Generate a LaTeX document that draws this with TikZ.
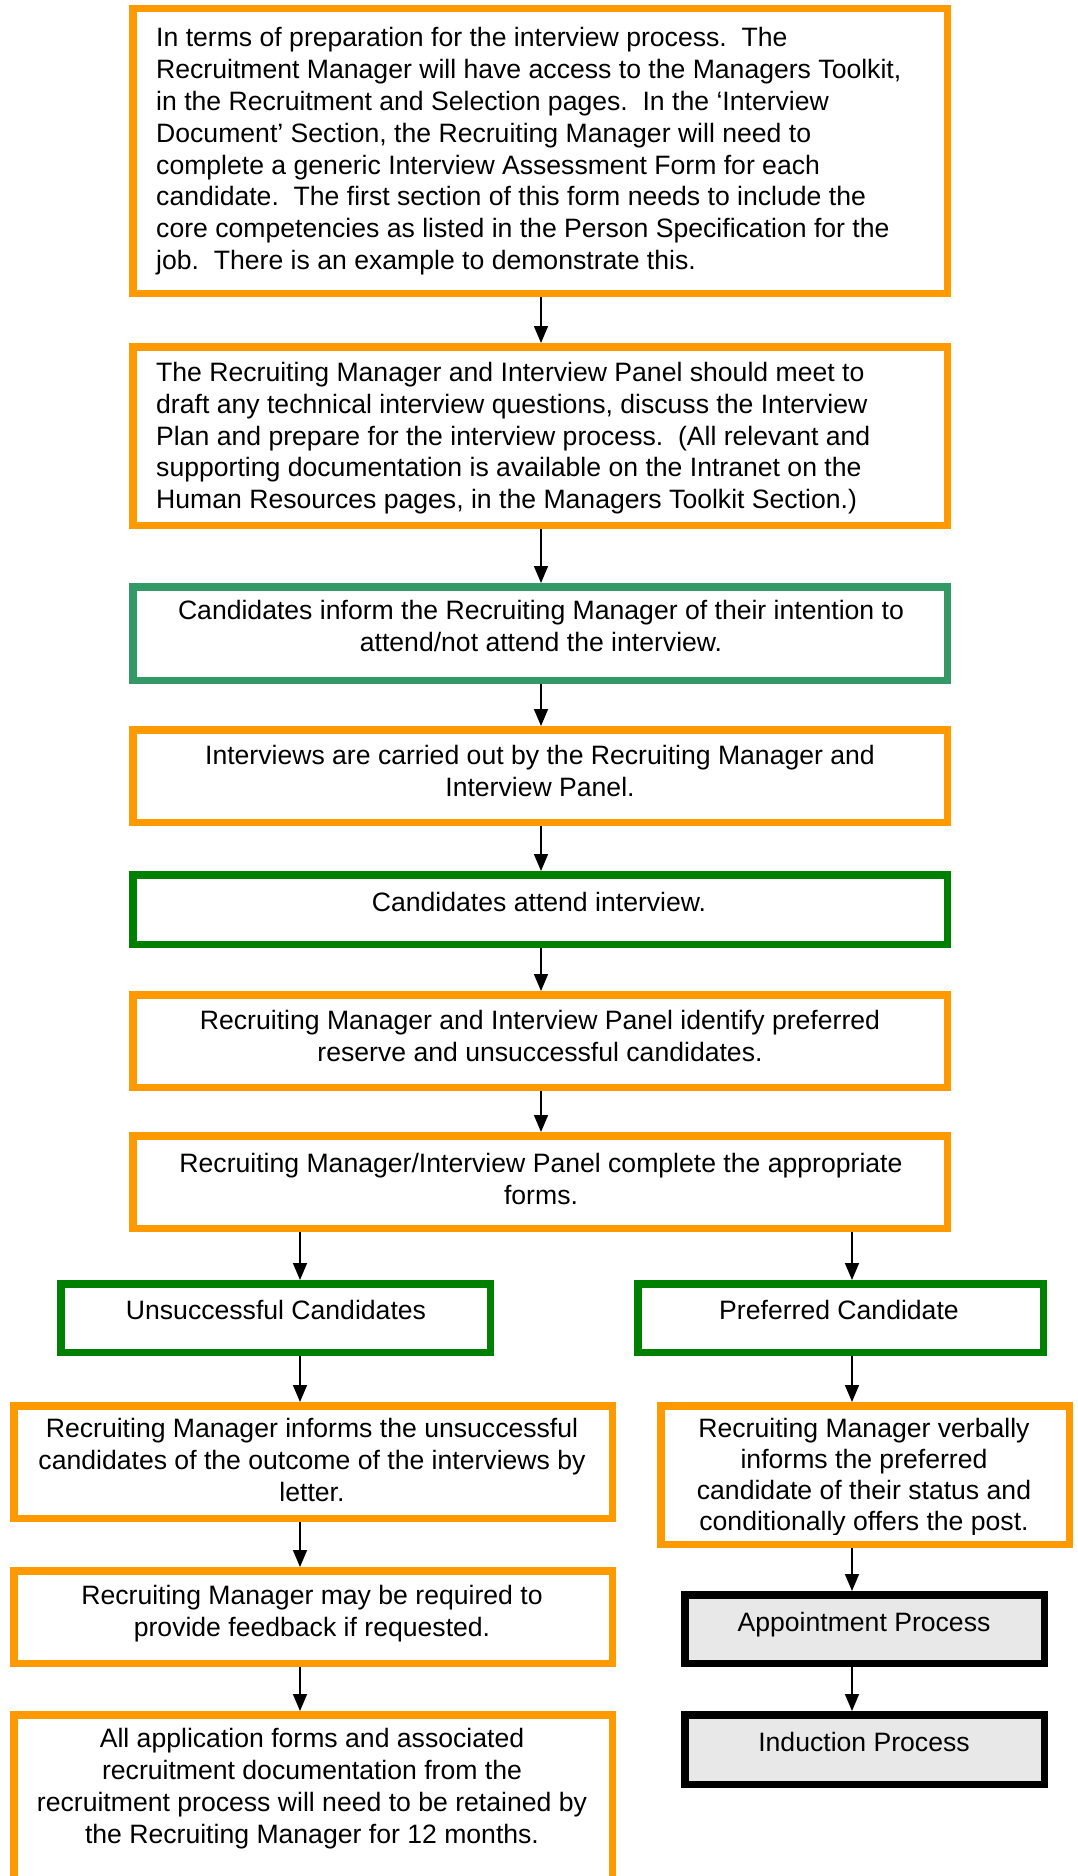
\documentclass[tikz,border=0pt]{standalone}
\usepackage{fontspec}
\setmainfont{Liberation Sans}
\usetikzlibrary{arrows.meta}
\definecolor{bor}{RGB}{255,153,0}
\definecolor{tealg}{RGB}{51,153,102}
\definecolor{grn}{RGB}{0,128,0}
\definecolor{gry}{RGB}{232,232,232}
\begin{document}
\begin{tikzpicture}[x=1pt,y=-1pt,
  boxbase/.style={rectangle, line width=7.5pt, fill=white, inner sep=0pt},
  obox/.style={boxbase, draw=bor},
  tbox/.style={boxbase, draw=tealg},
  gbox/.style={boxbase, draw=grn},
  kbox/.style={boxbase, draw=black, fill=gry},
  txt/.style={inner sep=0pt, font=\fontsize{26.6}{31.8}\selectfont, execute at begin node=\strut},
  arr/.style={line width=1.6pt, -{Triangle[length=17pt,width=14pt]}}
]
\path[use as bounding box, clip] (0,0) rectangle (1078,1876);
\fill[white] (0,0) rectangle (1078,1876);
\coordinate (axM) at (541,0);
\coordinate (axL) at (300,0);
\coordinate (axR) at (852,0);

% boxes
\node[obox, minimum width=814.5, minimum height=284.5] (b1) at (540,151) {};
\node[obox, minimum width=814.5, minimum height=178.5] (b2) at (540,436) {};
\node[tbox, minimum width=814.5, minimum height=93.5] (b3) at (540,633.5) {};
\node[obox, minimum width=814.5, minimum height=92.5] (b4) at (540,776) {};
\node[gbox, minimum width=814.5, minimum height=69.5] (b5) at (540,909.5) {};
\node[obox, minimum width=814.5, minimum height=92.5] (b6) at (540,1041) {};
\node[obox, minimum width=814.5, minimum height=92.5] (b7) at (540,1182) {};
\node[gbox, minimum width=429.5, minimum height=68.5] (uc) at (275.5,1318) {};
\node[gbox, minimum width=405.5, minimum height=68.5] (pc) at (840.5,1318) {};
\node[obox, minimum width=598.5, minimum height=112.5] (rmi) at (313,1462) {};
\node[obox, minimum width=408.5, minimum height=138.5] (rmv) at (865,1475) {};
\node[obox, minimum width=598.5, minimum height=92.5] (rmm) at (313,1617) {};
\node[kbox, minimum width=359.5, minimum height=68.5] (ap) at (864.5,1629) {};
\node[kbox, minimum width=359.5, minimum height=69.5] (ip) at (864.5,1749.5) {};
\node[obox, minimum width=598.5, minimum height=181.5] (all) at (313,1805.5) {};

% texts
\node[txt, anchor=north west, align=left] (t1) at (156,27.5) {In terms of preparation for the interview process.\ \ The\\
Recruitment Manager will have access to the Managers Toolkit,\\
in the Recruitment and Selection pages.\ \ In the `Interview\\
Document' Section, the Recruiting Manager will need to\\
complete a generic Interview Assessment Form for each\\
candidate.\ \ The first section of this form needs to include the\\
core competencies as listed in the Person Specification for the\\
job.\ \ There is an example to demonstrate this.};
\node[txt, anchor=north west, align=left] (t2) at (156,362) {The Recruiting Manager and Interview Panel should meet to\\
draft any technical interview questions, discuss the Interview\\
Plan and prepare for the interview process.\ \ (All relevant and\\
supporting documentation is available on the Intranet on the\\
Human Resources pages, in the Managers Toolkit Section.)};
\node[txt, anchor=north, align=center] (t3) at (541,600.5) {Candidates inform the Recruiting Manager of their intention to\\attend/not attend the interview.};
\node[txt, anchor=north, align=center] (t4) at (540,745) {Interviews are carried out by the Recruiting Manager and\\Interview Panel.};
\node[txt, anchor=north, align=center] (t5) at (539,889.5) {Candidates attend interview.};
\node[txt, anchor=north, align=center] (t6) at (540,1010) {Recruiting Manager and Interview Panel identify preferred\\reserve and unsuccessful candidates.};
\node[txt, anchor=north, align=center] (t7) at (541,1153) {Recruiting Manager/Interview Panel complete the appropriate\\forms.};
\node[txt, anchor=north, align=center] (tuc) at (276,1297) {Unsuccessful Candidates};
\node[txt, anchor=north, align=center] (tpc) at (839,1297) {Preferred Candidate};
\node[txt, anchor=north, align=center] (trmi) at (312,1418) {Recruiting Manager informs the unsuccessful\\candidates of the outcome of the interviews by\\letter.};
\begin{scope}
\clip (657,1402) rectangle (1073,1534);
\node[txt, anchor=north, align=center, font=\fontsize{26.6}{31}\selectfont] (trmv) at (864,1418.5) {Recruiting Manager verbally\\informs the preferred\\candidate of their status and\\conditionally offers the post.};
\end{scope}
\node[txt, anchor=north, align=center] (trmm) at (312,1585) {Recruiting Manager may be required to\\provide feedback if requested.};
\node[txt, anchor=north, align=center] (tap) at (864,1609.5) {Appointment Process};
\node[txt, anchor=north, align=center] (tip) at (864,1729.5) {Induction Process};
\node[txt, anchor=north, align=center] (tall) at (312,1728.5) {All application forms and associated\\recruitment documentation from the\\recruitment process will need to be retained by\\the Recruiting Manager for 12 months.};

% arrows
\draw[arr] (b1.south -| axM) -- (b2.north -| axM);
\draw[arr] (b2.south -| axM) -- (b3.north -| axM);
\draw[arr] (b3.south -| axM) -- (b4.north -| axM);
\draw[arr] (b4.south -| axM) -- (b5.north -| axM);
\draw[arr] (b5.south -| axM) -- (b6.north -| axM);
\draw[arr] (b6.south -| axM) -- (b7.north -| axM);
\draw[arr] (b7.south -| axL) -- (uc.north -| axL);
\draw[arr] (b7.south -| axR) -- (pc.north -| axR);
\draw[arr] (uc.south -| axL) -- (rmi.north -| axL);
\draw[arr] (rmi.south -| axL) -- (rmm.north -| axL);
\draw[arr] (rmm.south -| axL) -- (all.north -| axL);
\draw[arr] (pc.south -| axR) -- (rmv.north -| axR);
\draw[arr] (rmv.south -| axR) -- (ap.north -| axR);
\draw[arr] (ap.south -| axR) -- (ip.north -| axR);
\end{tikzpicture}
\end{document}
